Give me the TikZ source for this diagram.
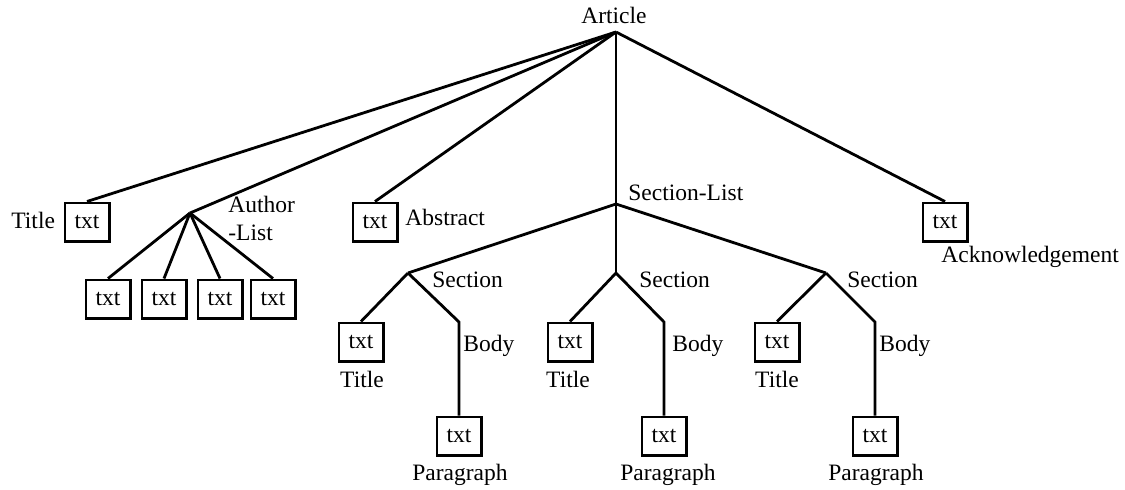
\documentclass[tikz,border=0pt]{standalone}
\usepackage{fontspec}
\setmainfont{Liberation Serif}
\begin{document}
\begin{tikzpicture}[x=0.5pt,y=-0.5pt,
  lbl/.style={inner sep=0pt, font=\fontsize{11.75pt}{14pt}\selectfont},
  tbox/.style={draw, line width=1.3pt, minimum width=22.2pt, minimum height=19.2pt, inner sep=0pt, font=\fontsize{11.75pt}{14pt}\selectfont},
  edge/.style={line width=1.4pt, line join=miter}]
\useasboundingbox (0,0) rectangle (1125,489);
% branch points
\coordinate (art) at (616,32);
\coordinate (al) at (190,213);
\coordinate (sl) at (616,204);
\coordinate (s1) at (408,273);
\coordinate (s2) at (616,273);
\coordinate (s3) at (826,273);
\coordinate (b1) at (459,322);
\coordinate (b2) at (664,322);
\coordinate (b3) at (875,322);
% boxes
\node[tbox] (tt) at (87,222) {txt};
\node[tbox] (a1) at (108,299) {txt};
\node[tbox] (a2) at (164,299) {txt};
\node[tbox] (a3) at (220,299) {txt};
\node[tbox] (a4) at (273,299) {txt};
\node[tbox] (ab) at (375,222) {txt};
\node[tbox] (ak) at (945,222) {txt};
\node[tbox] (t1) at (361,342) {txt};
\node[tbox] (t2) at (570,342) {txt};
\node[tbox] (t3) at (777,342) {txt};
\node[tbox] (p1) at (459,436) {txt};
\node[tbox] (p2) at (664,436) {txt};
\node[tbox] (p3) at (875,436) {txt};
% labels
\node[lbl, anchor=base] (lart) at (614,23) {Article};
\node[lbl, anchor=base west] (ltt) at (11,228) {Title};
\node[lbl, anchor=base west] (lal1) at (228,212) {Author};
\node[lbl, anchor=base west] (lal2) at (228,240) {-List};
\node[lbl, anchor=base west] (lab) at (405,225) {Abstract};
\node[lbl, anchor=base west] (lsl) at (628,200) {Section-List};
\node[lbl, anchor=base west] (lak) at (941,262) {Acknowledgement};
\node[lbl, anchor=base west] (ls1) at (432,287) {Section};
\node[lbl, anchor=base west] (ls2) at (639,287) {Section};
\node[lbl, anchor=base west] (ls3) at (847,287) {Section};
\node[lbl, anchor=base west] (lb1) at (463,351) {Body};
\node[lbl, anchor=base west] (lb2) at (672,351) {Body};
\node[lbl, anchor=base west] (lb3) at (879,351) {Body};
\node[lbl, anchor=base] (lt1) at (362,387) {Title};
\node[lbl, anchor=base] (lt2) at (568,387) {Title};
\node[lbl, anchor=base] (lt3) at (777,387) {Title};
\node[lbl, anchor=base] (lp1) at (460,480) {Paragraph};
\node[lbl, anchor=base] (lp2) at (668,480) {Paragraph};
\node[lbl, anchor=base] (lp3) at (876,480) {Paragraph};
% edges
\draw[edge] (art) -- (tt.north);
\draw[edge] (art) -- (al);
\draw[edge] (art) -- (ab.north);
\draw[edge] (art) -- (sl);
\draw[edge] (art) -- (ak.north);
\draw[edge] (al) -- (a1.north);
\draw[edge] (al) -- (a2.north);
\draw[edge] (al) -- (a3.north);
\draw[edge] (al) -- (a4.north);
\draw[edge] (sl) -- (s1);
\draw[edge] (sl) -- (s2);
\draw[edge] (sl) -- (s3);
\draw[edge] (s1) -- (t1.north);
\draw[edge] (s2) -- (t2.north);
\draw[edge] (s3) -- (t3.north);
\draw[edge] (s1) -- (b1) -- (p1.north);
\draw[edge] (s2) -- (b2) -- (p2.north);
\draw[edge] (s3) -- (b3) -- (p3.north);
\end{tikzpicture}
\end{document}
